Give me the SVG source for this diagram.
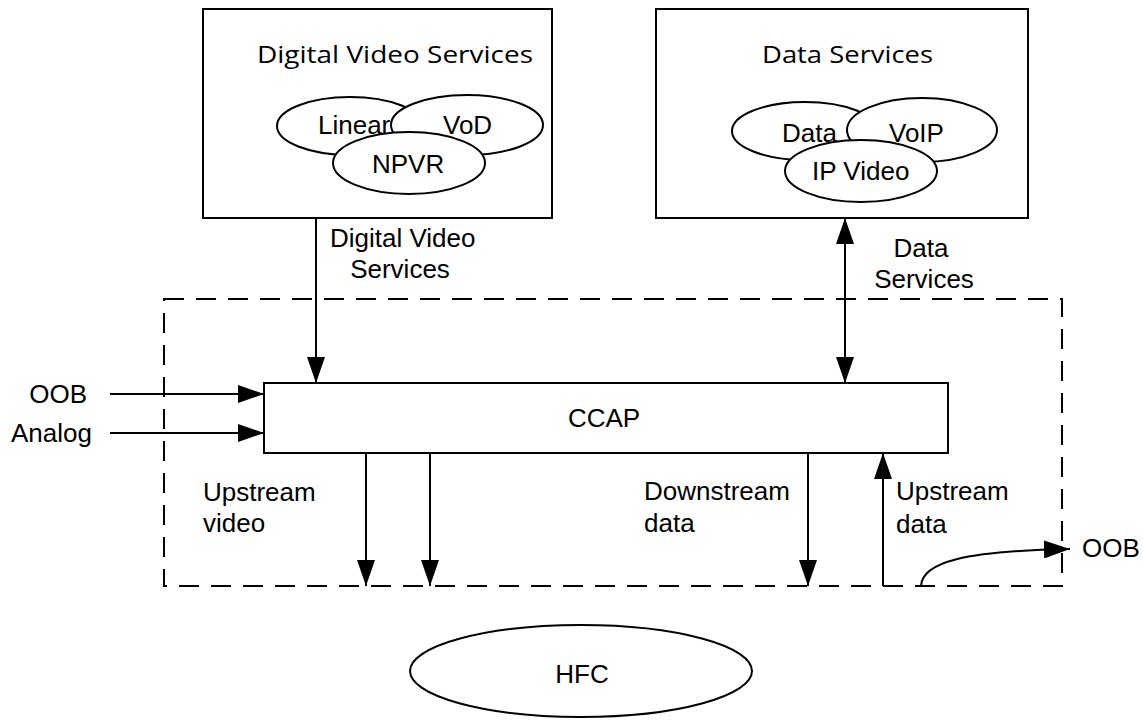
<svg xmlns="http://www.w3.org/2000/svg" width="1143" height="720" viewBox="0 0 1143 720">
<style>
.box{fill:#fff;stroke:#000;stroke-width:2}
.ell{fill:#fff;stroke:#000;stroke-width:2}
.line{fill:none;stroke:#000;stroke-width:2}
.dash{fill:none;stroke:#000;stroke-width:2;stroke-dasharray:20 12}
.t{font-family:"Liberation Sans",Arial,sans-serif;font-size:26px;fill:#000}
.title{font-family:"Open Sans","Noto Sans",sans-serif;font-size:24px;fill:#000}
</style>
<defs>
<marker id="ah" markerUnits="userSpaceOnUse" markerWidth="26" markerHeight="18" refX="26" refY="9" orient="auto-start-reverse">
<path d="M0,0 L26,9 L0,18 z" fill="#000"/>
</marker>
</defs>
<rect width="1143" height="720" fill="#fff"/>
<g id="boundary">
<rect class="dash" x="164" y="299" width="898" height="287"/>
</g>
<g id="dvs">
<rect class="box" x="203" y="9" width="349" height="209"/>
<text class="title" x="257" y="63" textLength="276" lengthAdjust="spacingAndGlyphs">Digital Video Services</text>
<ellipse class="ell" cx="350" cy="126" rx="73" ry="29"/>
<text class="t" x="318" y="134">Linear</text>
<ellipse class="ell" cx="467" cy="125" rx="76" ry="30"/>
<text class="t" x="443" y="134">VoD</text>
<ellipse class="ell" cx="409" cy="163" rx="76" ry="31"/>
<text class="t" x="372" y="173">NPVR</text>
</g>
<g id="ds">
<rect class="box" x="656" y="9" width="372" height="209"/>
<text class="title" x="762" y="63" textLength="171" lengthAdjust="spacingAndGlyphs">Data Services</text>
<ellipse class="ell" cx="805" cy="131" rx="73" ry="29"/>
<text class="t" x="782" y="142">Data</text>
<ellipse class="ell" cx="922" cy="130" rx="75" ry="32"/>
<text class="t" x="889" y="142">VoIP</text>
<ellipse class="ell" cx="861" cy="171" rx="76" ry="31"/>
<text class="t" x="812" y="180">IP Video</text>
</g>
<g id="ccap">
<rect class="box" x="264" y="383" width="684" height="70"/>
<text class="t" x="604" y="427" text-anchor="middle">CCAP</text>
</g>
<g id="hfc">
<ellipse class="ell" cx="581" cy="671" rx="171" ry="46"/>
<text class="t" x="582" y="683" text-anchor="middle">HFC</text>
</g>
<g id="connectors">
<line class="line" x1="316" y1="218" x2="316" y2="383" marker-end="url(#ah)"/>
<line class="line" x1="845" y1="218" x2="845" y2="383" marker-start="url(#ah)" marker-end="url(#ah)"/>
<line class="line" x1="110" y1="394" x2="264" y2="394" marker-end="url(#ah)"/>
<line class="line" x1="110" y1="433" x2="264" y2="433" marker-end="url(#ah)"/>
<line class="line" x1="366" y1="453" x2="366" y2="586" marker-end="url(#ah)"/>
<line class="line" x1="430" y1="453" x2="430" y2="586" marker-end="url(#ah)"/>
<line class="line" x1="808" y1="453" x2="808" y2="586" marker-end="url(#ah)"/>
<line class="line" x1="883" y1="586" x2="883" y2="453" marker-end="url(#ah)"/>
<path class="line" d="M921,586 C922,562 965,551 1070,549" marker-end="url(#ah)"/>
</g>
<g id="labels">
<text class="t" x="330" y="247">Digital Video</text>
<text class="t" x="400" y="278" text-anchor="middle">Services</text>
<text class="t" x="921" y="257" text-anchor="middle">Data</text>
<text class="t" x="924" y="288" text-anchor="middle">Services</text>
<text class="t" x="87" y="403" text-anchor="end">OOB</text>
<text class="t" x="11" y="442">Analog</text>
<text class="t" x="203" y="501">Upstream</text>
<text class="t" x="203" y="532">video</text>
<text class="t" x="644" y="500">Downstream</text>
<text class="t" x="644" y="532">data</text>
<text class="t" x="896" y="500">Upstream</text>
<text class="t" x="896" y="533">data</text>
<text class="t" x="1082" y="557">OOB</text>
</g>
</svg>
